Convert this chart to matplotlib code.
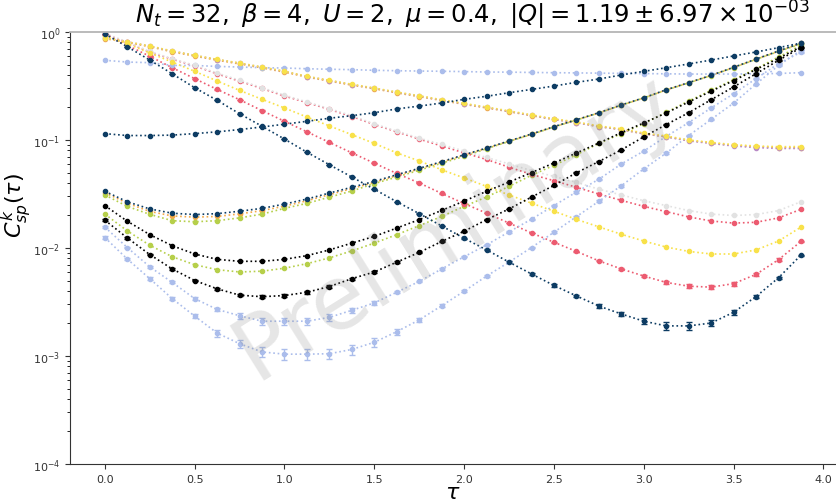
import numpy as np
import matplotlib
matplotlib.use("Agg")
import matplotlib.pyplot as plt

Nt = 32
beta = 4
tau = np.arange(Nt) * beta / Nt

# navy
navy_a = [0.96, 0.73, 0.55, 0.41, 0.305, 0.233, 0.175, 0.134, 0.102, 0.077, 0.059, 0.0454,
          0.035, 0.0268, 0.0208, 0.016, 0.0123, 0.0096, 0.0074, 0.00575, 0.0045, 0.0036,
          0.0029, 0.00245, 0.0021, 0.0019, 0.0019, 0.00202, 0.00254, 0.00355, 0.0053, 0.0086]
navy_a_err = [0.002, 0.002, 0.0015, 0.001, 0.0008, 0.0006, 0.0005, 0.0004, 0.0003, 0.0003,
              0.0002, 0.0002, 0.00015, 0.00012, 0.0001, 0.0001, 0.0001, 0.0001, 0.0001, 0.0001,
              0.0001, 0.0001, 0.0001, 0.00012, 0.00013, 0.00015, 0.00015, 0.00013, 0.00012,
              0.0001, 0.0001, 0.0001]
navy_b = [0.1145, 0.110, 0.110, 0.111, 0.1146, 0.119, 0.125, 0.132, 0.140, 0.149, 0.159, 0.168,
          0.179, 0.194, 0.206, 0.22, 0.238, 0.254, 0.274, 0.294, 0.316, 0.342, 0.367, 0.40,
          0.432, 0.467, 0.506, 0.55, 0.60, 0.653, 0.716, 0.79]
navy_c = [0.0335, 0.0268, 0.023, 0.021, 0.0204, 0.0208, 0.0219, 0.0233, 0.0255, 0.0284, 0.0323,
          0.0365, 0.0414, 0.0477, 0.0547, 0.063, 0.073, 0.0843, 0.098, 0.1137, 0.133, 0.154,
          0.179, 0.211, 0.246, 0.292, 0.34, 0.397, 0.471, 0.562, 0.667, 0.79]
# orange / purple (mostly hidden)
orange_a = [0.0325, 0.026, 0.0218, 0.0198, 0.0193, 0.0196, 0.0207, 0.0222, 0.0244, 0.0274,
            0.0312, 0.0355, 0.0405, 0.0468, 0.054, 0.0624, 0.0725, 0.084, 0.0975, 0.113, 0.1325,
            0.1535, 0.1785, 0.21, 0.245, 0.291, 0.339, 0.396, 0.47, 0.56, 0.665, 0.785]
orange_b = [0.87, 0.80, 0.73, 0.655, 0.598, 0.548, 0.506, 0.465, 0.425, 0.382, 0.351, 0.322,
            0.298, 0.273, 0.252, 0.232, 0.214, 0.198, 0.183, 0.168, 0.155, 0.145, 0.133, 0.125,
            0.114, 0.107, 0.099, 0.094, 0.089, 0.087, 0.085, 0.085]
purple = [0.88, 0.81, 0.74, 0.665, 0.606, 0.556, 0.514, 0.472, 0.431, 0.387, 0.355, 0.326,
          0.301, 0.276, 0.255, 0.234, 0.216, 0.2, 0.184, 0.169, 0.155, 0.145, 0.133, 0.125,
          0.114, 0.107, 0.098, 0.093, 0.088, 0.085, 0.0835, 0.0835]
# yellow
yellow_a = [0.88, 0.81, 0.742, 0.667, 0.608, 0.558, 0.516, 0.474, 0.433, 0.389, 0.357, 0.328,
            0.303, 0.278, 0.257, 0.236, 0.218, 0.202, 0.186, 0.171, 0.157, 0.147, 0.135, 0.127,
            0.116, 0.109, 0.1, 0.095, 0.0905, 0.088, 0.0866, 0.087]
yellow_b = [0.92, 0.78, 0.64, 0.527, 0.433, 0.352, 0.288, 0.238, 0.198, 0.163, 0.135, 0.112,
            0.093, 0.076, 0.064, 0.053, 0.0445, 0.0372, 0.031, 0.026, 0.0219, 0.0184, 0.0157,
            0.0134, 0.0116, 0.0102, 0.0093, 0.0088, 0.0088, 0.0096, 0.0116, 0.0156]
# lime
lime_a = [0.031, 0.0243, 0.0205, 0.0179, 0.0175, 0.0179, 0.019, 0.0206, 0.0233, 0.0259, 0.0296,
          0.0337, 0.0395, 0.0454, 0.0525, 0.061, 0.0705, 0.083, 0.097, 0.1125, 0.132, 0.153,
          0.178, 0.21, 0.245, 0.29, 0.338, 0.395, 0.468, 0.558, 0.66, 0.775]
lime_b = [0.0206, 0.0144, 0.0106, 0.0083, 0.0070, 0.0063, 0.0060, 0.0061, 0.0065, 0.00716,
          0.0081, 0.0094, 0.0111, 0.0133, 0.0161, 0.0196, 0.0243, 0.0297, 0.0372, 0.0472,
          0.0583, 0.073, 0.093, 0.1145, 0.142, 0.18, 0.23, 0.288, 0.362, 0.457, 0.587, 0.753]
# black
black_a = [0.0247, 0.0177, 0.0133, 0.0105, 0.0088, 0.00785, 0.00753, 0.00753, 0.00785, 0.0085,
           0.0096, 0.0111, 0.0128, 0.0153, 0.0183, 0.0223, 0.0272, 0.0335, 0.0408, 0.0499,
           0.0613, 0.0758, 0.0938, 0.117, 0.144, 0.178, 0.225, 0.283, 0.355, 0.45, 0.57, 0.73]
black_b = [0.0181, 0.0124, 0.0087, 0.0064, 0.0050, 0.00419, 0.00366, 0.00354, 0.00363, 0.00389,
           0.0044, 0.0052, 0.006, 0.0074, 0.0091, 0.0115, 0.0143, 0.0183, 0.023, 0.0296, 0.038,
           0.0497, 0.0632, 0.081, 0.107, 0.139, 0.179, 0.236, 0.31, 0.411, 0.547, 0.716]
black_b_err = [0.0003, 0.0002, 0.00015, 0.0001, 0.0001, 0.0001, 0.0001, 0.00012, 0.00012, 0.0001,
               0.0001, 0.0001, 0.0001, 0.0001, 0.0001, 0.0001, 0.0002, 0.0002, 0.0002, 0.0003,
               0.0003, 0.0004, 0.0005, 0.0006, 0.0008, 0.001, 0.001, 0.0015, 0.002, 0.002,
               0.003, 0.003]
# red
red_a = [0.96, 0.80, 0.65, 0.56, 0.485, 0.41, 0.35, 0.30, 0.255, 0.222, 0.192, 0.165, 0.139,
         0.119, 0.102, 0.088, 0.076, 0.066, 0.056, 0.048, 0.042, 0.0365, 0.0316, 0.0276, 0.0243,
         0.0217, 0.0194, 0.0178, 0.017, 0.0173, 0.019, 0.0228]
red_b = [0.95, 0.753, 0.596, 0.467, 0.37, 0.294, 0.236, 0.187, 0.149, 0.119, 0.095, 0.076,
         0.061, 0.049, 0.04, 0.032, 0.0258, 0.021, 0.017, 0.0138, 0.0113, 0.0093, 0.0076,
         0.0064, 0.0055, 0.0048, 0.00443, 0.00434, 0.00468, 0.0057, 0.0078, 0.0115]
red_b_err = [0.003, 0.002, 0.002, 0.0015, 0.001, 0.001, 0.0008, 0.0006, 0.0005, 0.0004, 0.0003,
             0.0003, 0.0002, 0.0002, 0.00015, 0.00012, 0.0001, 0.0001, 0.0001, 0.0001, 0.0001,
             0.0001, 0.0001, 0.0001, 0.0001, 0.0002, 0.0002, 0.0002, 0.0002, 0.0002, 0.0002,
             0.0002]
# gray
gray_a = [0.97, 0.81, 0.66, 0.566, 0.49, 0.417, 0.357, 0.305, 0.26, 0.225, 0.195, 0.168, 0.141,
          0.121, 0.104, 0.091, 0.079, 0.069, 0.06, 0.052, 0.046, 0.0406, 0.035, 0.031, 0.0274,
          0.0247, 0.0222, 0.0206, 0.02, 0.0204, 0.0222, 0.0268]
# light blue
lblue_flat = [0.547, 0.527, 0.52, 0.49, 0.49, 0.48, 0.474, 0.467, 0.464, 0.457, 0.452, 0.448,
              0.442, 0.438, 0.435, 0.433, 0.43, 0.426, 0.425, 0.422, 0.42, 0.418, 0.416, 0.414,
              0.412, 0.41, 0.408, 0.408, 0.408, 0.41, 0.413, 0.42]
lblue_a = [0.0156, 0.0101, 0.0067, 0.0048, 0.0034, 0.0027, 0.00236, 0.0021, 0.0021, 0.0021,
           0.00228, 0.00265, 0.0031, 0.0039, 0.0049, 0.0064, 0.0083, 0.0107, 0.0141, 0.0185,
           0.0247, 0.033, 0.0433, 0.06, 0.079, 0.108, 0.145, 0.198, 0.268, 0.37, 0.51, 0.65]
lblue_a_err = [0.0003, 0.0002, 0.00015, 0.0001, 0.0001, 0.0001, 0.00015, 0.00015, 0.00015,
               0.00015, 0.00015, 0.00015, 0.00012, 0.0001, 0.0001, 0.0001, 0.0001, 0.0001,
               0.0002, 0.0002, 0.0003, 0.0004, 0.0005, 0.0006, 0.0008, 0.001, 0.0015, 0.002,
               0.002, 0.003, 0.004, 0.005]
lblue_b = [0.0125, 0.0079, 0.0052, 0.0034, 0.00234, 0.00163, 0.0013, 0.00109, 0.00104, 0.00104,
           0.00105, 0.00115, 0.00134, 0.00168, 0.00216, 0.00292, 0.00398, 0.0055, 0.0074, 0.0101,
           0.014, 0.0195, 0.0271, 0.0377, 0.054, 0.0757, 0.11, 0.155, 0.22, 0.33, 0.49, 0.68]
lblue_b_err = [0.0003, 0.0002, 0.00015, 0.0001, 0.0001, 0.00012, 0.00012, 0.00012, 0.00012,
               0.00012, 0.00012, 0.00012, 0.00012, 0.0001, 0.0001, 0.0001, 0.0001, 0.0001,
               0.0002, 0.0002, 0.0003, 0.0004, 0.0005, 0.0006, 0.0008, 0.001, 0.0015, 0.002,
               0.002, 0.003, 0.004, 0.005]

NAVY = "#0d3c63"
RED = "#ec5b70"
YELLOW = "#f8e14a"
LIME = "#b6cf4a"
LBLUE = "#abbdeb"
GRAY = "#e2e2e2"
ORANGE = "#f4a948"
PURPLE = "#b889c6"

# (values, errors, colour) in drawing order: later ones on top
series = [
    (orange_a, None, ORANGE),
    (orange_b, None, ORANGE),
    (purple, None, PURPLE),
    (lime_a, None, LIME),
    (lime_b, None, LIME),
    (red_a, None, RED),
    (red_b, red_b_err, RED),
    (lblue_flat, None, LBLUE),
    (lblue_a, lblue_a_err, LBLUE),
    (lblue_b, lblue_b_err, LBLUE),
    (gray_a, None, GRAY),
    (yellow_a, None, YELLOW),
    (yellow_b, None, YELLOW),
    (black_a, None, "black"),
    (black_b, black_b_err, "black"),
    (navy_c, None, NAVY),
    (navy_b, None, NAVY),
    (navy_a, navy_a_err, NAVY),
]

fig = plt.figure(figsize=(8.36, 5.02), dpi=100)
ax = fig.add_axes([70 / 836, 37 / 502, 766 / 836, 432 / 502])

for vals, err, col in series:
    ax.errorbar(tau, vals, yerr=err, fmt="o", ls=":", lw=1.2, color=col,
                markersize=3, capsize=2, elinewidth=1)

ax.set_yscale("log")
ax.set_ylim(1e-4, 1)
ax.set_xlim(-0.194, 4.07)
ax.set_xticks([0.0, 0.5, 1.0, 1.5, 2.0, 2.5, 3.0, 3.5, 4.0])

ax.tick_params(labelsize=8, colors="#333333")
for s in ["left", "bottom"]:
    ax.spines[s].set_color("#333333")
ax.spines["top"].set_color("#b5b5b5")
ax.spines["top"].set_linewidth(1.3)
ax.spines["right"].set_visible(False)

ax.set_xlabel(r"$\tau$", fontsize=16, labelpad=-1.5)
ax.set_ylabel(r"$C^k_{sp}(\tau)$", fontsize=16)
ax.yaxis.set_label_coords(-0.047, 0.6)

fig.text(473 / 836, 1 - 15 / 502,
         r"$N_t = 32,\ \beta = 4,\ U = 2,\ \mu = 0.4,\ |Q| = 1.19 \pm 6.97 \times 10^{-03}$",
         ha="center", va="center", fontsize=17.5)

# watermark, drawn over the data
ax.text(0.503, 0.55, "Preliminary", transform=ax.transAxes, fontsize=64,
        color="gray", alpha=0.2, rotation=32, ha="center", va="center", zorder=10)

fig.savefig("out.png", dpi=100)
